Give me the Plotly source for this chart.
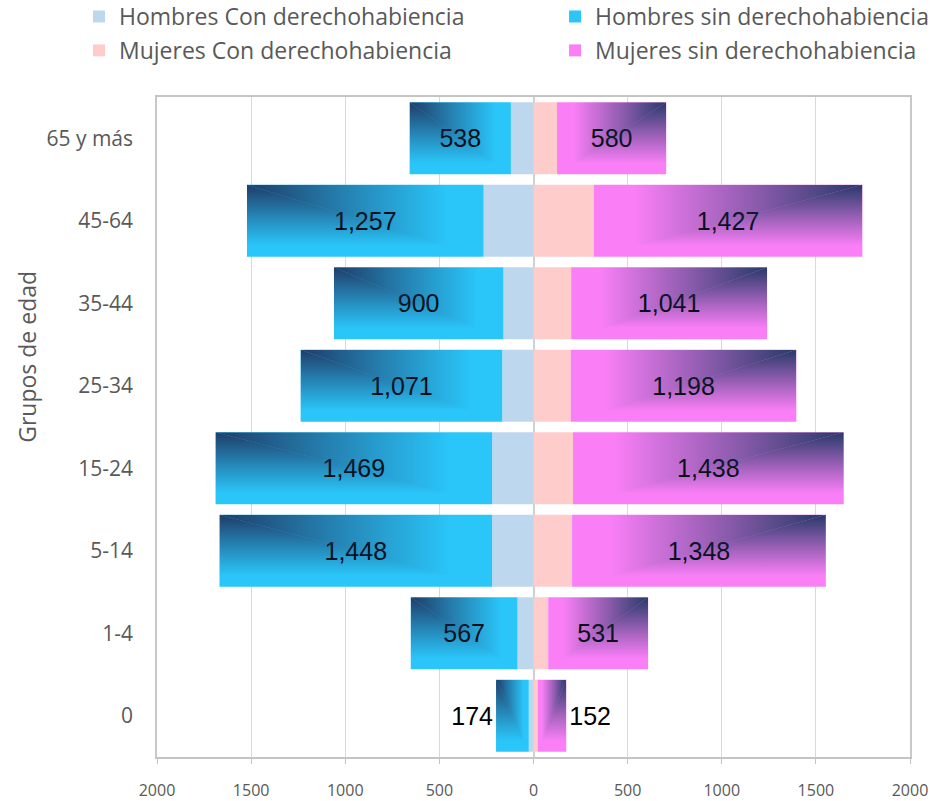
import base64
import plotly.graph_objects as go

# ---- data ----
categories = ["0", "1-4", "5-14", "15-24", "25-34", "35-44", "45-64", "65 y más"]
hombres_con = [25, 85, 220, 220, 166, 160, 265, 120]
hombres_sin = [174, 567, 1448, 1469, 1071, 900, 1257, 538]
mujeres_con = [22, 78, 205, 210, 198, 200, 320, 125]
mujeres_sin = [152, 531, 1348, 1438, 1198, 1041, 1427, 580]
x_ticks = [-2000, -1500, -1000, -500, 0, 500, 1000, 1500, 2000]
y_title = "Grupos de edad"

# ---- style ----
C_HCON = "#BDD7EE"
C_HSIN = "#2AC6FA"
C_MCON = "#FFCCCC"
C_MSIN = "#FA7FF7"
NAVY = "#1F3864"
GRAY_TXT = "#595959"
BAR_W = 0.873
FONT = "Open Sans"

ypos = list(range(len(categories)))


def corner_gradient(corner):
    # rectangular ("from corner") gradient overlay: navy fading to transparent
    if corner == "left":
        h = "<linearGradient id='h' gradientUnits='userSpaceOnUse' x1='0' y1='0' x2='100' y2='0'>"
        tri_h = "0,0 100,0 100,100"
        tri_v = "0,0 0,100 100,100"
    else:
        h = "<linearGradient id='h' gradientUnits='userSpaceOnUse' x1='100' y1='0' x2='0' y2='0'>"
        tri_h = "100,0 0,0 0,100"
        tri_v = "100,0 100,100 0,100"
    stops = (f"<stop offset='0' stop-color='{NAVY}' stop-opacity='0.97'/>"
             f"<stop offset='0.4' stop-color='{NAVY}' stop-opacity='0.5'/>"
             f"<stop offset='0.85' stop-color='{NAVY}' stop-opacity='0'/>")
    v = "<linearGradient id='v' gradientUnits='userSpaceOnUse' x1='0' y1='0' x2='0' y2='100'>"
    svg = ("<svg xmlns='http://www.w3.org/2000/svg' width='100' height='100' "
           "viewBox='0 0 100 100' preserveAspectRatio='none'><defs>"
           + h + stops + "</linearGradient>" + v + stops + "</linearGradient></defs>"
           f"<polygon points='{tri_h}' fill='url(#h)'/>"
           f"<polygon points='{tri_v}' fill='url(#v)'/></svg>")
    return "data:image/svg+xml;base64," + base64.b64encode(svg.encode()).decode()


GRAD_L = corner_gradient("left")
GRAD_R = corner_gradient("right")

fig = go.Figure()

label_font = dict(family="Liberation Sans, Arial", size=25, color="black")


def text_pos(vals):
    return ["outside" if v < 300 else "inside" for v in vals]


fig.add_trace(go.Bar(
    y=ypos, x=[-v for v in hombres_con], orientation="h", width=BAR_W,
    name="Hombres Con derechohabiencia", marker=dict(color=C_HCON, line=dict(width=0)),
    legend="legend", legendgroup="a", hoverinfo="skip"))
fig.add_trace(go.Bar(
    y=ypos, x=[-v for v in hombres_sin], orientation="h", width=BAR_W,
    name="Hombres sin derechohabiencia", marker=dict(color=C_HSIN, line=dict(width=0)),
    text=[f"{v:,}" for v in hombres_sin], textposition=text_pos(hombres_sin),
    insidetextanchor="middle", textangle=0, constraintext="none", cliponaxis=False,
    textfont=label_font, outsidetextfont=label_font,
    legend="legend2", legendgroup="b", hoverinfo="skip"))
fig.add_trace(go.Bar(
    y=ypos, x=mujeres_con, orientation="h", width=BAR_W,
    name="Mujeres Con derechohabiencia", marker=dict(color=C_MCON, line=dict(width=0)),
    legend="legend", legendgroup="c", hoverinfo="skip"))
fig.add_trace(go.Bar(
    y=ypos, x=mujeres_sin, orientation="h", width=BAR_W,
    name="Mujeres sin derechohabiencia", marker=dict(color=C_MSIN, line=dict(width=0)),
    text=[f"{v:,}" for v in mujeres_sin], textposition=text_pos(mujeres_sin),
    insidetextanchor="middle", textangle=0, constraintext="none", cliponaxis=False,
    textfont=label_font, outsidetextfont=label_font,
    legend="legend2", legendgroup="d", hoverinfo="skip"))

images = []
for i in ypos:
    images.append(dict(source=GRAD_L, xref="x", yref="y",
                       x=-(hombres_con[i] + hombres_sin[i]), y=i + BAR_W / 2,
                       sizex=hombres_sin[i], sizey=BAR_W, xanchor="left", yanchor="top",
                       sizing="stretch", layer="above"))
    images.append(dict(source=GRAD_R, xref="x", yref="y",
                       x=mujeres_con[i], y=i + BAR_W / 2,
                       sizex=mujeres_sin[i], sizey=BAR_W, xanchor="left", yanchor="top",
                       sizing="stretch", layer="above"))

legend_common = dict(orientation="v", font=dict(family=FONT, size=23, color=GRAY_TXT),
                     bgcolor="rgba(0,0,0,0)", itemwidth=30, tracegroupgap=1,
                     xanchor="left", yanchor="top", traceorder="grouped")

fig.update_layout(
    width=938, height=801,
    margin=dict(l=157, r=28, t=97, b=44, autoexpand=False),
    paper_bgcolor="white", plot_bgcolor="white",
    barmode="relative", bargap=0.13,
    font=dict(family=FONT, color=GRAY_TXT),
    images=images,
    legend=dict(x=-0.1036, y=1.1545, **legend_common),
    legend2=dict(x=0.5286, y=1.1545, **legend_common),
    annotations=[dict(text=y_title, textangle=-90, xref="paper", yref="paper",
                      x=-0.173, y=0.606, xanchor="center", yanchor="middle",
                      showarrow=False, font=dict(family=FONT, size=23, color=GRAY_TXT))],
    xaxis=dict(range=[-2000, 2000], tickvals=x_ticks,
               ticktext=[str(abs(v)) for v in x_ticks],
               showgrid=True, gridcolor="#D9D9D9", gridwidth=1,
               zeroline=True, zerolinecolor="#D0D0D0", zerolinewidth=1.5,
               showline=True, linecolor="#C4C4C4", linewidth=1.5, mirror=True,
               ticks="outside", ticklen=5, tickcolor="#C4C4C4",
               ticklabelstandoff=13,
               tickfont=dict(family=FONT, size=16, color=GRAY_TXT)),
    yaxis=dict(range=[-0.5, len(categories) - 0.5], tickvals=ypos, ticktext=categories,
               showgrid=False, zeroline=False,
               showline=True, linecolor="#C8C8C8", linewidth=1.5, mirror=True,
               ticks="", ticklabelstandoff=18,
               tickfont=dict(family=FONT, size=21, color=GRAY_TXT)),
)

fig.write_html("out.html", config={"displayModeBar": False},
               post_script="document.body.style.margin='0px';")
